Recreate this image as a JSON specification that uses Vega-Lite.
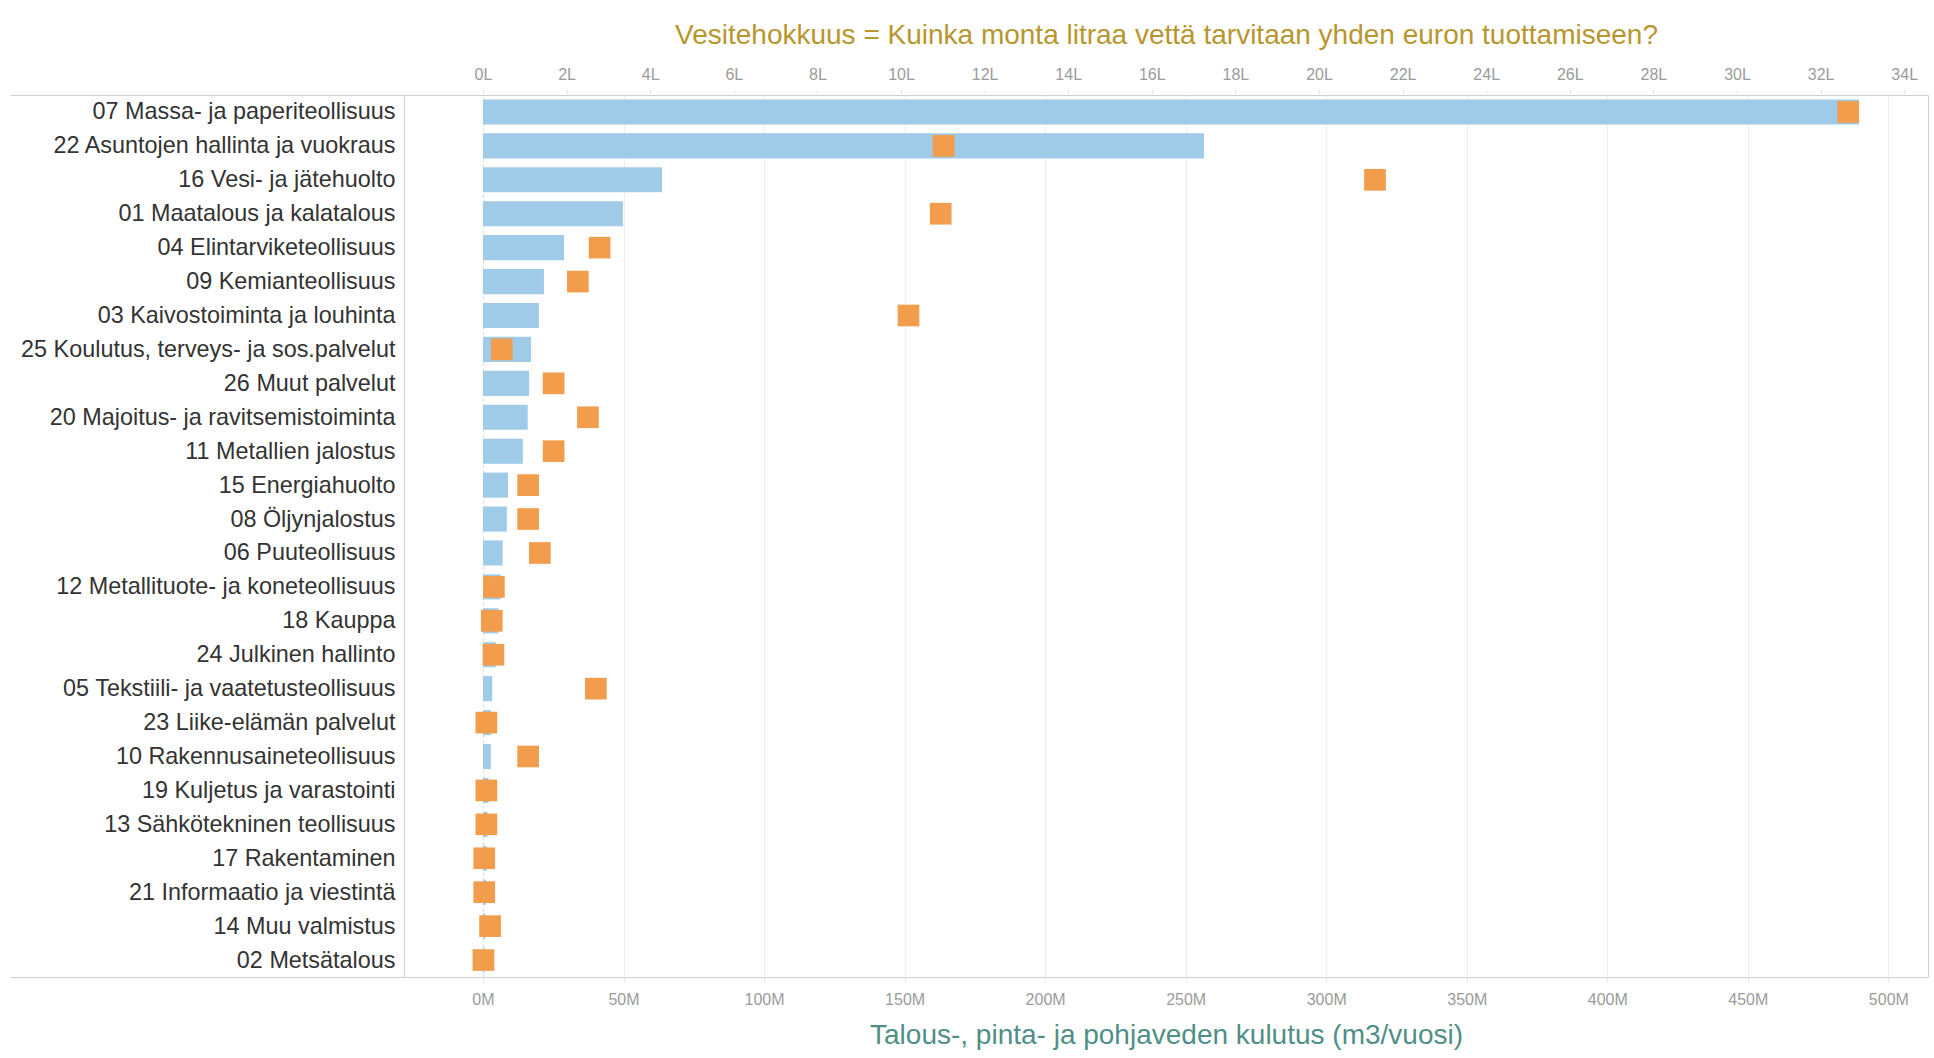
{
  "$schema": "https://vega.github.io/schema/vega-lite/v6.json",
  "width": 1524,
  "height": 882,
  "autosize": {"type": "none"},
  "padding": {"left": 404, "top": 95, "right": 6, "bottom": 81},
  "background": "white",
  "config": {
    "view": {"stroke": "#cfcfcf", "strokeWidth": 1},
    "font": "Liberation Sans"
  },
  "data": {
    "values": [
      {"toimiala": "07 Massa- ja paperiteollisuus", "kulutus": 489500000, "vesitehokkuus": 32.66},
      {"toimiala": "22 Asuntojen hallinta ja vuokraus", "kulutus": 256500000, "vesitehokkuus": 11.02},
      {"toimiala": "16 Vesi- ja jätehuolto", "kulutus": 63700000, "vesitehokkuus": 21.34},
      {"toimiala": "01 Maatalous ja kalatalous", "kulutus": 49800000, "vesitehokkuus": 10.95},
      {"toimiala": "04 Elintarviketeollisuus", "kulutus": 28800000, "vesitehokkuus": 2.79},
      {"toimiala": "09 Kemianteollisuus", "kulutus": 21700000, "vesitehokkuus": 2.27},
      {"toimiala": "03 Kaivostoiminta ja louhinta", "kulutus": 19900000, "vesitehokkuus": 10.18},
      {"toimiala": "25 Koulutus, terveys- ja sos.palvelut", "kulutus": 17100000, "vesitehokkuus": 0.45},
      {"toimiala": "26 Muut palvelut", "kulutus": 16400000, "vesitehokkuus": 1.69},
      {"toimiala": "20 Majoitus- ja ravitsemistoiminta", "kulutus": 15900000, "vesitehokkuus": 2.51},
      {"toimiala": "11 Metallien jalostus", "kulutus": 14200000, "vesitehokkuus": 1.69},
      {"toimiala": "15 Energiahuolto", "kulutus": 8900000, "vesitehokkuus": 1.08},
      {"toimiala": "08 Öljynjalostus", "kulutus": 8500000, "vesitehokkuus": 1.08},
      {"toimiala": "06 Puuteollisuus", "kulutus": 7000000, "vesitehokkuus": 1.36},
      {"toimiala": "12 Metallituote- ja koneteollisuus", "kulutus": 6300000, "vesitehokkuus": 0.26},
      {"toimiala": "18 Kauppa", "kulutus": 5500000, "vesitehokkuus": 0.21},
      {"toimiala": "24 Julkinen hallinto", "kulutus": 4500000, "vesitehokkuus": 0.25},
      {"toimiala": "05 Tekstiili- ja  vaatetusteollisuus", "kulutus": 3300000, "vesitehokkuus": 2.7},
      {"toimiala": "23 Liike-elämän palvelut", "kulutus": 2800000, "vesitehokkuus": 0.08},
      {"toimiala": "10 Rakennusaineteollisuus", "kulutus": 2800000, "vesitehokkuus": 1.08},
      {"toimiala": "19 Kuljetus ja varastointi", "kulutus": 2000000, "vesitehokkuus": 0.08},
      {"toimiala": "13 Sähkötekninen teollisuus", "kulutus": 1600000, "vesitehokkuus": 0.08},
      {"toimiala": "17 Rakentaminen", "kulutus": 1300000, "vesitehokkuus": 0.03},
      {"toimiala": "21 Informaatio ja viestintä", "kulutus": 1100000, "vesitehokkuus": 0.03},
      {"toimiala": "14 Muu valmistus", "kulutus": 800000, "vesitehokkuus": 0.17},
      {"toimiala": "02 Metsätalous", "kulutus": 500000, "vesitehokkuus": 0.01}
    ]
  },
  "encoding": {
    "y": {
      "field": "toimiala",
      "type": "nominal",
      "sort": null,
      "scale": {"paddingInner": 0, "paddingOuter": 0},
      "axis": {
        "title": null,
        "labelFont": "Liberation Sans",
        "labelFontSize": 23.4,
        "labelColor": "#333333",
        "labelLimit": 0,
        "domain": false,
        "ticks": true,
        "tickBand": "extent",
        "tickSize": 394,
        "tickWidth": 1,
        "tickColor": {"condition": {"test": "datum.index < 0 || datum.index === 1", "value": "#cfcfcf"}, "value": "rgba(0,0,0,0)"},
        "labelPadding": -385
      }
    }
  },
  "layer": [
    {
      "mark": {"type": "bar", "color": "#A0CBE8", "height": {"band": 0.74}},
      "encoding": {
        "x": {
          "field": "kulutus",
          "type": "quantitative",
          "scale": {"domain": [-28100000, 514100000], "nice": false, "zero": false},
          "axis": {
            "orient": "bottom",
            "values": [0, 50000000, 100000000, 150000000, 200000000, 250000000, 300000000, 350000000, 400000000, 450000000, 500000000],
            "labelExpr": "(datum.value / 1000000) + 'M'",
            "labelFlush": false,
            "grid": true,
            "gridColor": {"condition": {"test": "datum.value === 0", "value": "#d6d6d6"}, "value": "#eeeeee"},
            "gridDash": {"condition": {"test": "datum.value === 0", "value": [3, 3]}, "value": []},
            "domain": false,
            "ticks": true,
            "tickSize": 5,
            "tickColor": "#e4e4e4",
            "labelPadding": 9,
            "labelFont": "Liberation Sans",
            "labelFontSize": 16,
            "labelColor": "#9b9b9b",
            "title": "Talous-, pinta- ja pohjaveden kulutus (m3/vuosi)",
            "titleFont": "Liberation Sans",
            "titleFontSize": 28,
            "titleFontWeight": "normal",
            "titleColor": "#4F8F87",
            "titlePadding": 14
          }
        }
      }
    },
    {
      "mark": {"type": "point", "shape": "square", "filled": true, "size": 470, "opacity": 1, "color": "#F19D4C"},
      "encoding": {
        "x": {
          "field": "vesitehokkuus",
          "type": "quantitative",
          "scale": {"domain": [-1.89, 34.57], "nice": false, "zero": false},
          "axis": {
            "orient": "top",
            "values": [0, 2, 4, 6, 8, 10, 12, 14, 16, 18, 20, 22, 24, 26, 28, 30, 32, 34],
            "labelExpr": "datum.value + 'L'",
            "labelFlush": false,
            "grid": false,
            "domain": false,
            "ticks": true,
            "tickSize": 5,
            "tickColor": "#e4e4e4",
            "labelPadding": 8,
            "labelFont": "Liberation Sans",
            "labelFontSize": 16,
            "labelColor": "#9b9b9b",
            "title": "Vesitehokkuus = Kuinka monta litraa vettä tarvitaan yhden euron tuottamiseen?",
            "titleFont": "Liberation Sans",
            "titleFontSize": 28,
            "titleFontWeight": "normal",
            "titleColor": "#B8962E",
            "titlePadding": 17
          }
        }
      }
    }
  ],
  "resolve": {"scale": {"x": "independent"}, "axis": {"x": "independent"}}
}
